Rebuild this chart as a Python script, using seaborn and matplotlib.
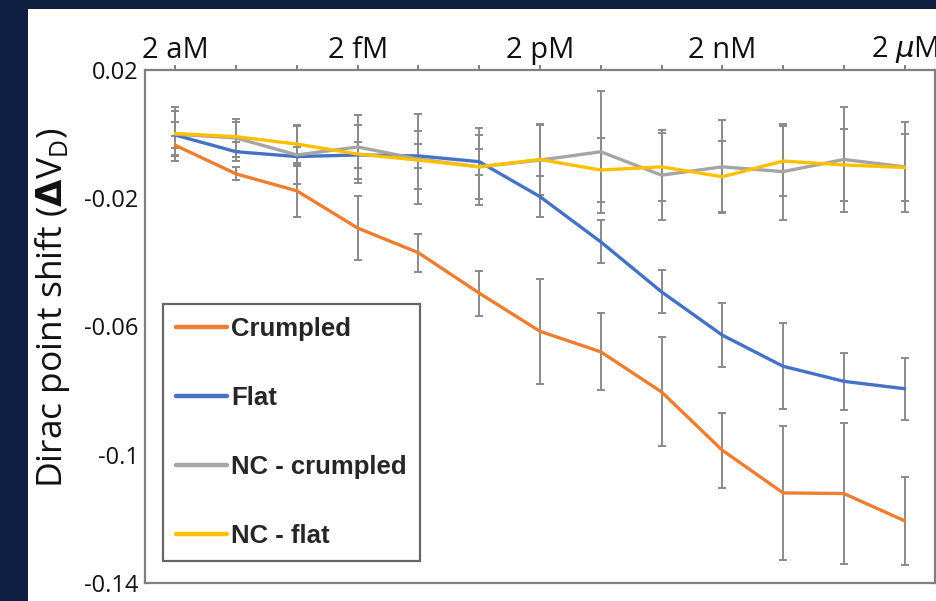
from __future__ import annotations

import matplotlib

matplotlib.use("Agg")

import matplotlib.pyplot as plt
import pandas as pd
import seaborn as sns
from matplotlib.patches import Rectangle

# concentration steps, each one a factor of 10 (2 aM ... 2 uM)
CONC_STEPS = list(range(13))
CONC_LABELS = ["2 aM", "", "", "2 fM", "", "", "2 pM", "", "", "2 nM", "", "", "2 $\\mu$M"]

Y_TICKS = [0.02, 0.0, -0.02, -0.04, -0.06, -0.08, -0.1, -0.12, -0.14]
Y_TICK_LABELS = ["0.02", "", "-0.02", "", "-0.06", "", "-0.1", "", "-0.14"]

SERIES_NAMES = ["Crumpled", "Flat", "NC - crumpled", "NC - flat"]
SERIES_COLORS = ["#ED7D31", "#4472C4", "#A5A5A5", "#FFC000"]

crumpled = [-0.0035, -0.0124, -0.0177, -0.0293, -0.0370, -0.0496, -0.0615,
            -0.0679, -0.0804, -0.0986, -0.1119, -0.1121, -0.1206]
crumpled_err = [0.003, 0.002, 0.008, 0.010, 0.006, 0.007, 0.0163,
                0.012, 0.017, 0.0117, 0.021, 0.022, 0.0138]

flat = [-0.0003, -0.0055, -0.0070, -0.0065, -0.0068, -0.0086, -0.0195,
        -0.0336, -0.0492, -0.0627, -0.0724, -0.0771, -0.0794]
flat_err = [0.004, 0.003, 0.003, 0.004, 0.0037, 0.004, 0.0065,
            0.0067, 0.0067, 0.010, 0.0134, 0.0088, 0.0097]

nc_crumpled = [0.0, -0.0012, -0.0065, -0.0040, -0.0078, -0.0102, -0.0081,
               -0.0055, -0.0128, -0.0102, -0.0117, -0.0079, -0.0102]
nc_crumpled_err = [0.0085, 0.006, 0.009, 0.010, 0.014, 0.010, 0.011,
                   0.019, 0.014, 0.0145, 0.015, 0.0165, 0.014]

nc_flat = [0.0002, -0.0008, -0.0031, -0.0062, -0.0081, -0.0102, -0.0079,
           -0.0112, -0.0102, -0.0133, -0.0084, -0.0096, -0.0104]
nc_flat_err = [0.007, 0.0045, 0.006, 0.009, 0.009, 0.012, 0.011,
               0.010, 0.0107, 0.011, 0.011, 0.0113, 0.0105]

values = [crumpled, flat, nc_crumpled, nc_flat]
errors = [crumpled_err, flat_err, nc_crumpled_err, nc_flat_err]

frames = []
for name, vals, errs in zip(SERIES_NAMES, values, errors):
    frames.append(pd.DataFrame({"step": CONC_STEPS, "shift": vals, "err": errs, "series": name}))
df = pd.concat(frames, ignore_index=True)

sns.set_style("white")
plt.rcParams["font.family"] = ["Open Sans", "DejaVu Sans"]
plt.rcParams["mathtext.fontset"] = "dejavusans"

NAVY = "#0E1F42"
SPINE_GREY = "#808080"
TEXT_BLACK = "#111111"

fig = plt.figure(figsize=(9.37, 6.01), dpi=100, facecolor=NAVY)
# white slide panel behind the chart
panel = Rectangle((28 / 937, 0), 1 - 28 / 937, 1 - 9 / 601, transform=fig.transFigure,
                  facecolor="white", edgecolor="none", zorder=-10)
fig.add_artist(panel)
ax = fig.add_axes([145 / 937, 1 - 583 / 601, 790 / 937, 513 / 601])
ax.set_facecolor("white")

# error bars first so the lines sit on top of them
for name in SERIES_NAMES:
    sub = df[df["series"] == name]
    ax.errorbar(sub["step"], sub["shift"], yerr=sub["err"], fmt="none",
                ecolor="#8A8A8A", elinewidth=1.4, capsize=3, capthick=1.4, zorder=2)

sns.lineplot(data=df, x="step", y="shift", hue="series", hue_order=SERIES_NAMES,
             palette=SERIES_COLORS, linewidth=2.4, ax=ax, zorder=3)

ax.set_xlim(-0.5, 12.5)
ax.set_ylim(-0.14, 0.02)

ax.xaxis.tick_top()
ax.set_xticks(CONC_STEPS)
ax.set_xticklabels(CONC_LABELS, fontsize=21)
ax.set_yticks(Y_TICKS)
ax.set_yticklabels(Y_TICK_LABELS, fontsize=17)
ax.tick_params(axis="both", direction="out", length=3.5, width=1.4,
               color=SPINE_GREY, labelcolor=TEXT_BLACK, pad=1)
ax.tick_params(axis="x", pad=0)
ax.set_xlabel("")
ax.set_ylabel("Dirac point shift ($\\mathbf{\\Delta}$V$_{\\mathregular{D}}$)",
              fontsize=25.5, color=TEXT_BLACK)
ax.yaxis.set_label_coords(-0.092, 0.536)

for spine in ax.spines.values():
    spine.set_visible(True)
    spine.set_color(SPINE_GREY)
    spine.set_linewidth(1.6)

handles, labels = ax.get_legend_handles_labels()
for h in handles:
    h.set_linewidth(3.2)
leg = ax.legend(handles, labels, loc="lower left", bbox_to_anchor=(0.023, 0.043),
                borderaxespad=0, frameon=True, fancybox=False, handlelength=2.0,
                handletextpad=0.15, labelspacing=1.75, borderpad=0.5,
                prop={"family": ["Liberation Sans", "DejaVu Sans"], "weight": "bold", "size": 18.5})
leg.get_frame().set_edgecolor("#404040")
leg.get_frame().set_linewidth(1.6)
for text in leg.get_texts():
    text.set_color("#262626")

fig.savefig("out.png", dpi=100, facecolor=NAVY)
